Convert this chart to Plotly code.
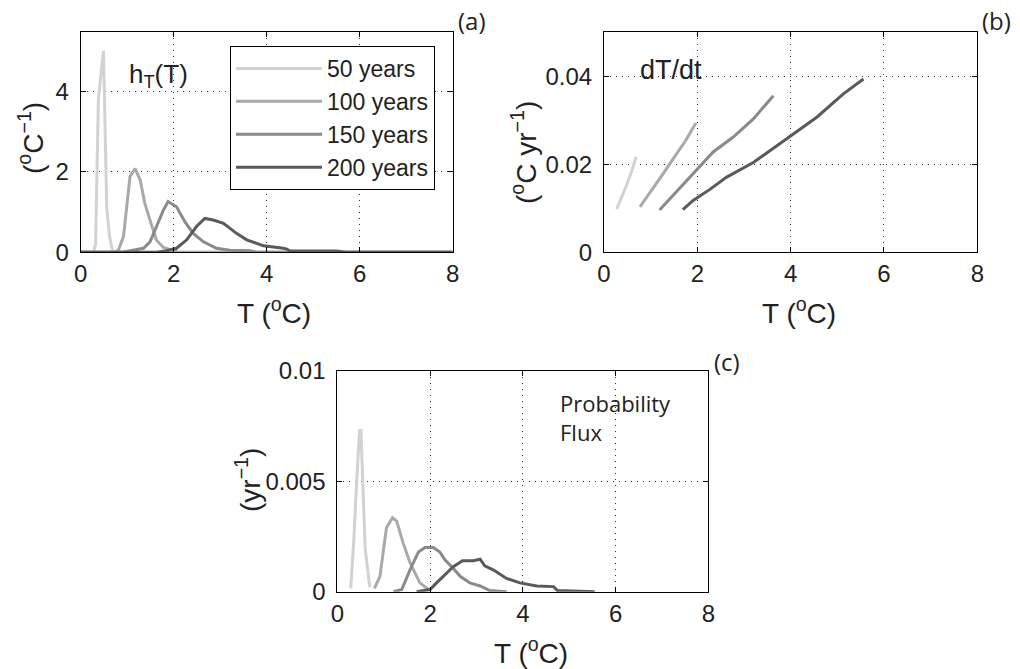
import plotly.graph_objects as go

W, H = 1020, 669

series_names = ["50 years", "100 years", "150 years", "200 years"]
series_colors = ["#d2d2d2", "#a9a9a9", "#8a8a8a", "#5a5a5a"]

# Panel (a): h_T(T)
h50_T = [0, 0.27, 0.32, 0.38, 0.49, 0.56, 0.62, 0.69, 8]
h50 = [0, 0, 0.2, 3.8, 5.0, 1.1, 0.4, 0, 0]
h100_T = [0, 0.73, 0.81, 0.92, 1.06, 1.17, 1.28, 1.38, 1.49, 1.63, 1.78, 1.99, 2.1, 8]
h100 = [0, 0, 0.05, 0.39, 1.88, 2.08, 1.79, 1.21, 0.8, 0.3, 0.12, 0.03, 0, 0]
h150_T = [0, 0.9, 1.35, 1.49, 1.63, 1.78, 1.88, 2.06, 2.24, 2.42, 2.64, 2.92, 3.21, 3.64, 3.78, 8]
h150 = [0, 0, 0.1, 0.26, 0.64, 1.05, 1.26, 1.13, 0.76, 0.47, 0.26, 0.1, 0.05, 0.04, 0, 0]
h200_T = [0, 1.64, 1.85, 2.06, 2.28, 2.49, 2.67, 2.85, 3.07, 3.35, 3.57, 3.78, 3.93, 4.36, 4.43, 4.5, 5.5, 5.7, 8]
h200 = [0, 0, 0.04, 0.1, 0.31, 0.64, 0.84, 0.8, 0.72, 0.47, 0.31, 0.22, 0.16, 0.1, 0.08, 0.03, 0.03, 0, 0]

# Panel (b): dT/dt
r50_T = [0.27, 0.37, 0.47, 0.58, 0.69]
r50 = [0.0098, 0.0122, 0.0149, 0.0180, 0.0217]
r100_T = [0.77, 1.0, 1.25, 1.5, 1.75, 1.97]
r100 = [0.0103, 0.0137, 0.0176, 0.0215, 0.0254, 0.0294]
r150_T = [1.19, 1.48, 1.77, 2.06, 2.34, 2.77, 3.2, 3.63]
r150 = [0.0096, 0.0129, 0.0164, 0.0197, 0.0228, 0.0262, 0.0303, 0.0356]
r200_T = [1.69, 1.91, 2.27, 2.63, 3.2, 3.92, 4.56, 5.13, 5.56]
r200 = [0.0097, 0.0118, 0.0143, 0.0171, 0.0204, 0.0258, 0.0307, 0.036, 0.0394]

# Panel (c): probability flux
f50_T = [0.29, 0.36, 0.42, 0.48, 0.51, 0.6, 0.7]
f50 = [0.00015, 0.0025, 0.0051, 0.0073, 0.0073, 0.002, 0.0002]
f100_T = [0.8, 0.92, 1.06, 1.19, 1.28, 1.42, 1.57, 1.78, 1.97]
f100 = [0.00015, 0.0007, 0.0029, 0.00335, 0.0032, 0.0022, 0.0013, 0.0004, 0.0001]
f150_T = [1.21, 1.39, 1.57, 1.75, 1.89, 2.07, 2.21, 2.32, 2.5, 2.65, 2.86, 3.08, 3.29, 3.65]
f150 = [0, 0.0001, 0.001, 0.0018, 0.002, 0.002, 0.0018, 0.00144, 0.00106, 0.0007, 0.0004, 0.00026, 0.00005, 0]
f200_T = [1.71, 2.0, 2.14, 2.32, 2.5, 2.7, 2.93, 3.08, 3.18, 3.37, 3.65, 3.94, 4.3, 4.66, 4.75, 5.55]
f200 = [0, 0.0001, 0.0004, 0.00076, 0.00113, 0.0014, 0.0014, 0.00147, 0.00117, 0.00098, 0.0006, 0.0004, 0.00026, 0.00023, 0.00005, 0]

x_ticks = [0, 2, 4, 6, 8]
x_ticktext = ["0", "2", "4", "6", "8"]
ya_ticks = [0, 2, 4]
ya_text = ["0", "2", "4"]
yb_ticks = [0, 0.02, 0.04]
yb_text = ["0", "0.02", "0.04"]
yc_ticks = [0, 0.005, 0.01]
yc_text = ["0", "0.005", "0.01"]

panel_a = [(h50_T, h50), (h100_T, h100), (h150_T, h150), (h200_T, h200)]
panel_b = [(r50_T, r50), (r100_T, r100), (r150_T, r150), (r200_T, r200)]
panel_c = [(f50_T, f50), (f100_T, f100), (f150_T, f150), (f200_T, f200)]

FONT = "Liberation Sans, Arial, sans-serif"
FONT2 = "Open Sans, sans-serif"

fig = go.Figure()
for i, (x, y) in enumerate(panel_a):
    fig.add_trace(go.Scatter(x=x, y=y, mode="lines", name=series_names[i],
                             line=dict(color=series_colors[i], width=3),
                             xaxis="x", yaxis="y", showlegend=True))
for i, (x, y) in enumerate(panel_b):
    fig.add_trace(go.Scatter(x=x, y=y, mode="lines", name=series_names[i],
                             line=dict(color=series_colors[i], width=3),
                             xaxis="x2", yaxis="y2", showlegend=False))
for i, (x, y) in enumerate(panel_c):
    fig.add_trace(go.Scatter(x=x, y=y, mode="lines", name=series_names[i],
                             line=dict(color=series_colors[i], width=3),
                             xaxis="x3", yaxis="y3", showlegend=False))


def px(x):
    return x / W


def py(y):
    return 1 - y / H


axis_common = dict(showline=True, linecolor="black", linewidth=1, mirror="ticks",
                   ticks="inside", ticklen=5, tickcolor="black", tickwidth=1,
                   showgrid=True, gridcolor="#333333", griddash="1px,5px", gridwidth=1,
                   zeroline=False, tickfont=dict(size=24, family=FONT, color="#222222"),
                   automargin=False, fixedrange=True)
xcommon = dict(axis_common, ticklabelstandoff=0)
ycommon = dict(axis_common, ticklabelstandoff=6)

fig.update_layout(
    width=W, height=H,
    margin=dict(l=0, r=0, t=0, b=0, pad=0, autoexpand=False),
    paper_bgcolor="white", plot_bgcolor="white",
    xaxis=dict(domain=[px(80.7), px(452.7)], range=[0, 8], anchor="y",
               tickvals=x_ticks, ticktext=x_ticktext, **xcommon),
    yaxis=dict(domain=[py(252.3), py(32.3)], range=[0, 5.46], anchor="x",
               tickvals=ya_ticks, ticktext=ya_text, **ycommon),
    xaxis2=dict(domain=[px(604), px(977.3)], range=[0, 8], anchor="y2",
                tickvals=x_ticks, ticktext=x_ticktext, **xcommon),
    yaxis2=dict(domain=[py(252.3), py(32.3)], range=[0, 0.05], anchor="x2",
                tickvals=yb_ticks, ticktext=yb_text, **ycommon),
    xaxis3=dict(domain=[px(337.3), px(708.3)], range=[0, 8], anchor="y3",
                tickvals=x_ticks, ticktext=x_ticktext, **xcommon),
    yaxis3=dict(domain=[py(591.7), py(371)], range=[0, 0.01], anchor="x3",
                tickvals=yc_ticks, ticktext=yc_text, **ycommon),
    legend=dict(x=px(230), y=py(46), xanchor="left", yanchor="top",
                bordercolor="black", borderwidth=1, bgcolor="white",
                font=dict(size=23, family=FONT, color="#222222"),
                tracegroupgap=0, itemwidth=86),
    showlegend=True,
)

ann = []


def add_text(text, x, y, size, font=FONT, angle=0, xanchor="center", align="center"):
    ann.append(dict(text=text, x=px(x), y=py(y), xref="paper", yref="paper",
                    showarrow=False, xanchor=xanchor, yanchor="middle", textangle=angle,
                    align=align, font=dict(size=size, family=font, color="#222222")))


# axis titles
add_text("T (<sup>o</sup>C)", 274, 311, 28)
add_text("T (<sup>o</sup>C)", 799, 311, 28)
add_text("T (<sup>o</sup>C)", 531, 651, 28)
add_text("(<sup>o</sup>C<sup>\u22121</sup>)", 31, 138, 28, angle=-90)
add_text("(<sup>o</sup>C yr<sup>\u22121</sup>)", 524, 153, 28, angle=-90)
add_text("(yr<sup>\u22121</sup>)", 248, 480, 28, angle=-90)
# in-panel labels
add_text("h<sub>T</sub>(T)", 127, 76, 26, xanchor="left")
add_text("dT/dt", 638, 70, 27, xanchor="left")
add_text("Probability<br>Flux", 558, 417, 22, font=FONT2, xanchor="left", align="left")
# panel letters
add_text("(a)", 472, 21, 24, font=FONT2)
add_text("(b)", 996, 21, 24, font=FONT2)
add_text("(c)", 727, 361, 24, font=FONT2)

fig.update_layout(annotations=ann)

fig.write_html("out.html", config={"displayModeBar": False},
               post_script="document.body.style.margin='0';document.body.style.overflow='hidden';")
